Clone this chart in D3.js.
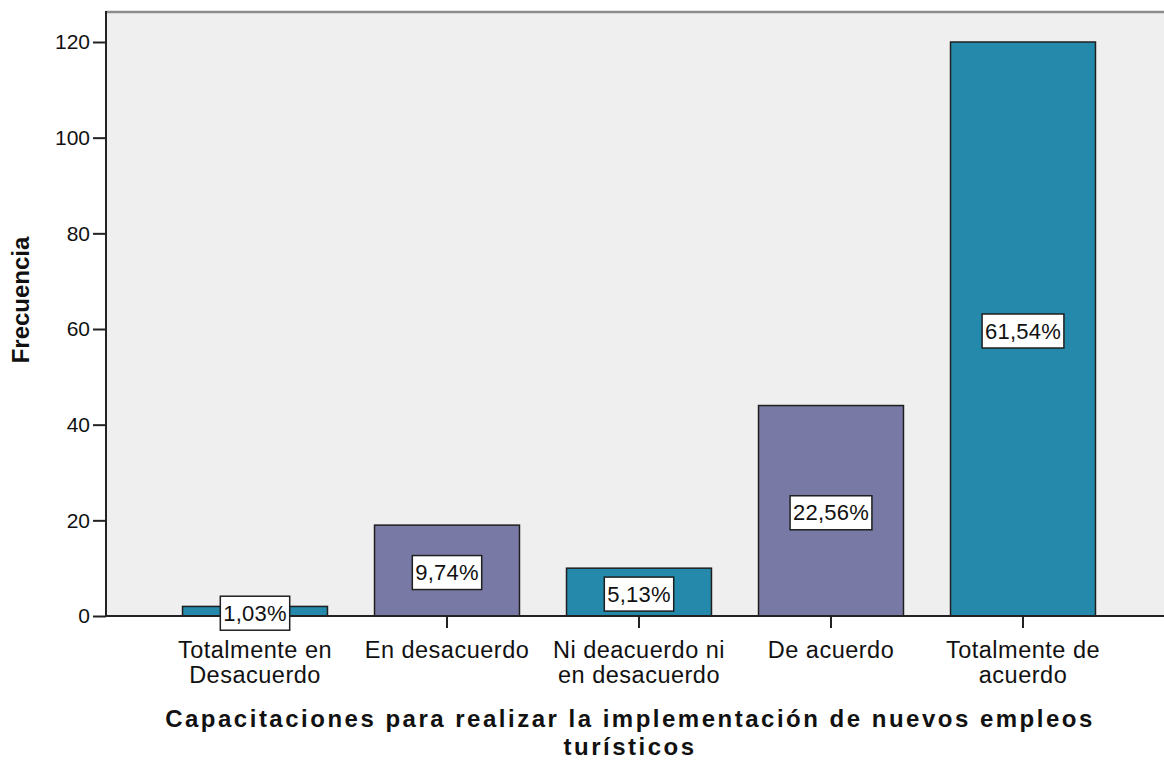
<!DOCTYPE html>
<html>
<head>
<meta charset="utf-8">
<script src="https://cdn.jsdelivr.net/npm/d3@7"></script>
<style>
  html, body { margin: 0; padding: 0; background: #ffffff; }
  svg { display: block; }
  text { font-family: "Liberation Sans", Arial, sans-serif; fill: #111; }
</style>
</head>
<body>
<svg id="chart" width="1164" height="762"></svg>
<script>
// ---- data ----
const categories = [
  ["Totalmente en", "Desacuerdo"],
  ["En desacuerdo"],
  ["Ni deacuerdo ni", "en desacuerdo"],
  ["De acuerdo"],
  ["Totalmente de", "acuerdo"]
];
const frequencies = [2, 19, 10, 44, 120];
const percentLabels = ["1,03%", "9,74%", "5,13%", "22,56%", "61,54%"];
const barColors = ["#2489AA", "#7979A6", "#2489AA", "#7979A6", "#2489AA"];
const yTicks = [0, 20, 40, 60, 80, 100, 120];
const yTitle = "Frecuencia";
const xTitle = ["Capacitaciones para realizar la implementación de nuevos empleos", "turísticos"];

// ---- layout ----
const plot = { left: 106, top: 12, right: 1164, bottom: 616 };

const svg = d3.select("#chart");

const keys = categories.map(c => c.join(" "));
const x = d3.scaleBand()
  .domain(keys)
  .range([159, 1119])
  .paddingInner(0.245)
  .paddingOuter(0.1225);

const y = d3.scaleLinear()
  .domain([0, 120])
  .range([plot.bottom, 42]);

// background
svg.append("rect")
  .attr("x", plot.left).attr("y", plot.top)
  .attr("width", plot.right - plot.left)
  .attr("height", plot.bottom - plot.top)
  .attr("fill", "#EFEFEF");

// top border
svg.append("line")
  .attr("x1", plot.left).attr("x2", plot.right)
  .attr("y1", plot.top).attr("y2", plot.top)
  .attr("stroke", "#8c8c8c").attr("stroke-width", 2.5);

// bars
const data = keys.map((k, i) => ({ key: k, value: frequencies[i], label: percentLabels[i], color: barColors[i] }));

svg.append("g").selectAll("rect")
  .data(data)
  .join("rect")
  .attr("x", d => x(d.key))
  .attr("y", d => y(d.value))
  .attr("width", x.bandwidth())
  .attr("height", d => y(0) - y(d.value))
  .attr("fill", d => d.color)
  .attr("stroke", "#1f1f1f")
  .attr("stroke-width", 1.5);

// y axis
const yAxis = d3.axisLeft(y)
  .tickValues(yTicks)
  .tickSize(13)
  .tickPadding(3);

const gy = svg.append("g")
  .attr("transform", `translate(${plot.left},0)`)
  .call(yAxis);
gy.select(".domain").remove();
gy.selectAll(".tick line").attr("stroke", "#222").attr("stroke-width", 2);
gy.selectAll(".tick text")
  .style("font-family", "'Liberation Sans', Arial, sans-serif")
  .style("font-size", "21px")
  .attr("fill", "#111");

svg.append("line")
  .attr("x1", plot.left).attr("x2", plot.left)
  .attr("y1", plot.top - 1).attr("y2", plot.bottom + 1)
  .attr("stroke", "#222").attr("stroke-width", 2);

// x axis
const xAxis = d3.axisBottom(x).tickSize(12).tickFormat("");
const gx = svg.append("g")
  .attr("transform", `translate(0,${plot.bottom})`)
  .call(xAxis);
gx.select(".domain").remove();
gx.selectAll(".tick line").attr("stroke", "#222").attr("stroke-width", 2);

svg.append("line")
  .attr("x1", plot.left).attr("x2", plot.right)
  .attr("y1", plot.bottom).attr("y2", plot.bottom)
  .attr("stroke", "#222").attr("stroke-width", 2);

// category labels
const catG = svg.append("g");
categories.forEach((lines, i) => {
  const cx = x(keys[i]) + x.bandwidth() / 2;
  const t = catG.append("text")
    .attr("text-anchor", "middle")
    .style("font-size", "23.5px")
    .style("letter-spacing", "0.5px");
  lines.forEach((ln, j) => {
    t.append("tspan")
      .attr("x", cx)
      .attr("y", 658 + j * 25)
      .text(ln);
  });
});

// percentage label boxes
const lblG = svg.append("g");
data.forEach(d => {
  const cx = x(d.key) + x.bandwidth() / 2;
  const cy = (y(d.value) + y(0)) / 2 + 2;
  const t = lblG.append("text")
    .attr("x", cx)
    .attr("y", cy)
    .attr("text-anchor", "middle")
    .attr("dominant-baseline", "central")
    .style("font-size", "22px")
    .style("letter-spacing", "0.2px")
    .text(d.label);
  const bb = t.node().getBBox();
  lblG.insert("rect", "text")
    .attr("x", cx - bb.width / 2 - 3)
    .attr("y", cy - 17)
    .attr("width", bb.width + 6)
    .attr("height", 34)
    .attr("fill", "#ffffff")
    .attr("stroke", "#1f1f1f")
    .attr("stroke-width", 1.5);
});

// axis titles
svg.append("text")
  .attr("transform", `translate(29,300) rotate(-90)`)
  .attr("text-anchor", "middle")
  .style("font-size", "24px")
  .style("font-weight", "bold")
  .text(yTitle);

xTitle.forEach((ln, j) => {
  svg.append("text")
    .attr("x", 630)
    .attr("y", 727 + j * 28)
    .attr("text-anchor", "middle")
    .style("font-size", "24px")
    .style("font-weight", "bold")
    .style("letter-spacing", "2.5px")
    .text(ln);
});
</script>
</body>
</html>
